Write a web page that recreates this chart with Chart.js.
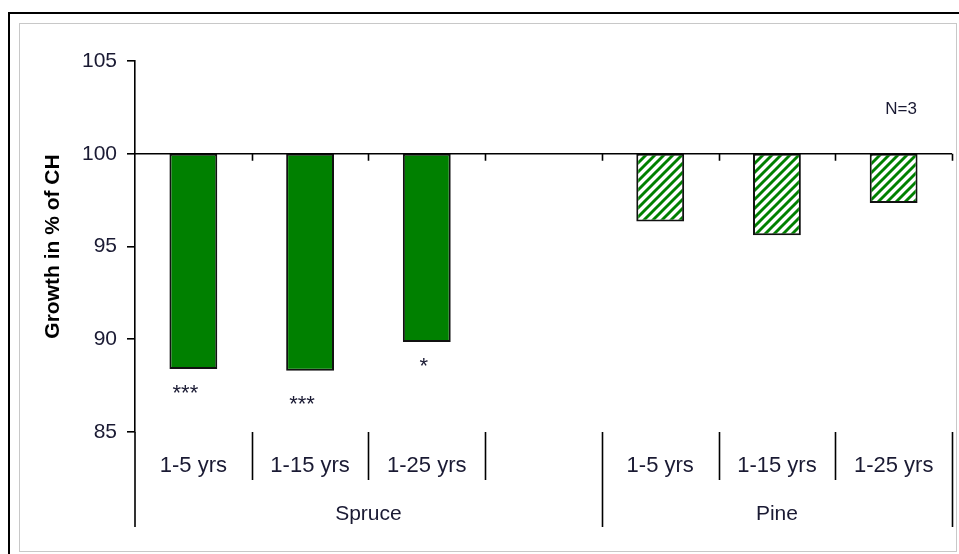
<!DOCTYPE html>
<html>
<head>
<meta charset="utf-8">
<script src="https://cdn.jsdelivr.net/npm/chart.js@4/dist/chart.umd.min.js"></script>
<style>
html,body{margin:0;padding:0;background:#fff;}
canvas{display:block;}
</style>
</head>
<body>
<canvas id="c" width="959" height="554"></canvas>
<script>
// ---- data ----
const categories = ['1-5 yrs', '1-15 yrs', '1-25 yrs', '', '1-5 yrs', '1-15 yrs', '1-25 yrs'];
const groupNames = ['Spruce', 'Pine'];
const groupSizes = [4, 3];
const spruceValues = [88.4, 88.3, 89.85];
const pineValues = [96.35, 95.6, 97.35];
const baseline = 100;
const significance = ['***', '***', '*', '', '', '', ''];
const significanceY = [87.25, 86.65, 88.7, null, null, null, null];
const yTicks = [85, 90, 95, 100, 105];
const noteText = 'N=3';

const FONT = '"Liberation Sans", Arial, sans-serif';
const GREEN = '#008000';
const TEXT = '#1a1a33';

// hatch pattern for pine
function makeHatch() {
  const s = 9;
  const c = document.createElement('canvas');
  c.width = s; c.height = s;
  const g = c.getContext('2d');
  g.fillStyle = '#fff';
  g.fillRect(0, 0, s, s);
  g.strokeStyle = GREEN;
  g.lineWidth = 2.9;
  g.beginPath();
  g.moveTo(-1, s + 1); g.lineTo(s + 1, -1);
  g.moveTo(-1, 1); g.lineTo(1, -1);
  g.moveTo(s - 1, s + 1); g.lineTo(s + 1, s - 1);
  g.stroke();
  return document.getElementById('c').getContext('2d').createPattern(c, 'repeat');
}

const spruceData = categories.map((_, i) => i < spruceValues.length ? [baseline, spruceValues[i]] : null);
const pineOffset = groupSizes[0];
const pineData = categories.map((_, i) => (i >= pineOffset && i - pineOffset < pineValues.length) ? [baseline, pineValues[i - pineOffset]] : null);

const decorations = {
  id: 'decorations',
  beforeDraw(chart) {
    const ctx = chart.ctx;
    ctx.save();
    ctx.fillStyle = '#fff';
    ctx.fillRect(0, 0, chart.width, chart.height);
    ctx.strokeStyle = '#000';
    ctx.lineWidth = 2;
    ctx.beginPath();
    ctx.moveTo(9, chart.height + 5); ctx.lineTo(9, 13); ctx.lineTo(chart.width + 5, 13);
    ctx.stroke();
    ctx.strokeStyle = '#c8c8c8';
    ctx.lineWidth = 1;
    ctx.strokeRect(19.5, 23.5, 937, 528);
    ctx.restore();
  },
  afterDraw(chart) {
    const ctx = chart.ctx;
    const x = chart.scales.x, y = chart.scales.y;
    const area = chart.chartArea;
    const n = categories.length;
    const w = (area.right - area.left) / n;
    const y100 = y.getPixelForValue(baseline);
    ctx.save();
    ctx.strokeStyle = '#000';
    ctx.lineWidth = 1.6;
    // baseline axis at 100 with ticks
    ctx.beginPath();
    ctx.moveTo(area.left, y100); ctx.lineTo(area.right, y100);
    for (let i = 1; i <= n; i++) {
      const bx = Math.round(area.left + i * w) + 0.5;
      ctx.moveTo(bx, y100); ctx.lineTo(bx, y100 + 7);
    }
    ctx.stroke();
    // category separators
    const edges = [0];
    groupSizes.reduce((acc, s) => { edges.push(acc + s); return acc + s; }, 0);
    ctx.beginPath();
    for (let i = 0; i <= n; i++) {
      const bx = Math.round(area.left + i * w) + (i === 0 ? 0 : 0.5);
      const long = edges.includes(i);
      ctx.moveTo(bx, area.bottom); ctx.lineTo(bx, area.bottom + (long ? 95 : 48));
    }
    ctx.stroke();
    // group labels
    ctx.fillStyle = TEXT;
    ctx.font = '21px ' + FONT;
    ctx.textAlign = 'center';
    ctx.textBaseline = 'middle';
    let start = 0;
    groupNames.forEach((g, k) => {
      const cx = area.left + (start + groupSizes[k] / 2) * w;
      ctx.fillText(g, cx, area.bottom + 82);
      start += groupSizes[k];
    });
    // significance stars
    ctx.font = '22px ' + FONT;
    significance.forEach((s, i) => {
      if (!s) return;
      const px = x.getPixelForValue(i) - (s.length > 1 ? 8 : 3);
      const py = y.getPixelForValue(significanceY[i]);
      ctx.fillText(s, px, py + 4);
    });
    // note
    ctx.font = '17px ' + FONT;
    ctx.fillText(noteText, area.right - 51, y.getPixelForValue(102.4));
    ctx.restore();
  }
};

const chart = new Chart(document.getElementById('c'), {
  type: 'bar',
  data: {
    labels: categories,
    datasets: [
      {
        label: 'Spruce',
        data: spruceData,
        backgroundColor: GREEN,
        borderColor: '#111',
        borderWidth: 2,
        borderSkipped: false
      },
      {
        label: 'Pine',
        data: pineData,
        backgroundColor: makeHatch(),
        borderColor: '#111',
        borderWidth: 2,
        borderSkipped: false
      }
    ]
  },
  options: {
    responsive: false,
    animation: false,
    events: [],
    grouped: false,
    barPercentage: 0.41,
    categoryPercentage: 1,
    layout: { padding: { left: 0, right: 7, top: 61, bottom: 0 } },
    plugins: { legend: { display: false }, tooltip: { enabled: false } },
    scales: {
      x: {
        type: 'category',
        offset: true,
        grid: { display: false, drawTicks: false },
        border: { display: false },
        ticks: {
          font: { family: FONT, size: 22 },
          color: TEXT,
          padding: 21,
          maxRotation: 0,
          autoSkip: false
        },
        afterFit(scale) { scale.height = 122; }
      },
      y: {
        min: 85,
        max: 105,
        afterBuildTicks(scale) { scale.ticks = yTicks.map(v => ({ value: v })); },
        grid: { drawOnChartArea: false, drawTicks: true, tickLength: 8, color: '#000', lineWidth: 1.6 },
        border: { display: true, color: '#000', width: 1.6 },
        ticks: {
          font: { family: FONT, size: 21 },
          color: TEXT,
          padding: 10
        },
        title: {
          display: true,
          text: 'Growth in % of CH',
          font: { family: FONT, size: 21, weight: 'bold' },
          color: '#000',
          padding: { top: 41, bottom: 0 }
        },
        afterFit(scale) { scale.width = 135; }
      }
    }
  },
  plugins: [decorations]
});
</script>
</body>
</html>
